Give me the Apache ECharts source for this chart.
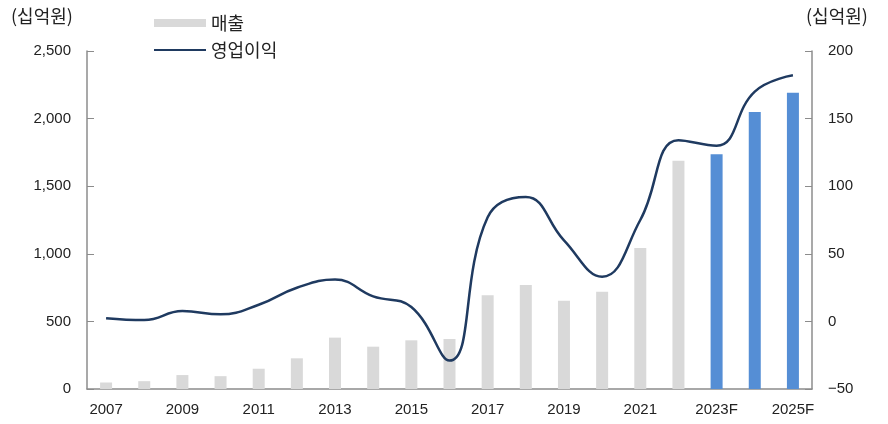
<!DOCTYPE html>
<html><head><meta charset="utf-8">
<script src="https://cdn.jsdelivr.net/npm/echarts@6/dist/echarts.min.js"></script>
<style>html,body{margin:0;padding:0;background:#fff}#c{width:888px;height:424px}</style>
</head><body><div id="c"></div>
<script>
const categories = ['2007','2008','2009','2010','2011','2012','2013','2014','2015','2016','2017','2018','2019','2020','2021','2022','2023F','2024F','2025F'];
const sales = [48, 58, 103, 95, 150, 227, 380, 313, 360, 370, 693, 769, 653, 720, 1043, 1689, 1736, 2049, 2192];
const opProfit = [2.4, 1, 7.6, 5.2, 12.3, 24.9, 31, 18.5, 10.6, -29, 77, 92, 60, 33, 75, 134, 130, 170, 182];
const forecastStart = 16;
const leftTicks = [0, 500, 1000, 1500, 2000, 2500];
const rightTicks = [-50, 0, 50, 100, 150, 200];

const numFont = '"Liberation Sans", Arial, sans-serif';
const krFont = '"Noto Sans CJK KR", sans-serif';
const axisColor = '#8c8c8c';

const chart = echarts.init(document.getElementById('c'), null, {renderer: 'canvas'});
chart.setOption({
  animation: false,
  grid: {left: 87, right: 76, top: 51, bottom: 35},
  legend: {
    orient: 'vertical', left: 148, top: 9, itemWidth: 52, itemHeight: 8, itemGap: 9,
    textStyle: {fontFamily: krFont, fontSize: 18, color: '#222'},
    data: [
      {name: '매출', icon: 'rect', itemStyle: {color: '#d9d9d9'}},
      {name: '영업이익', itemStyle: {opacity: 0}}
    ]
  },
  graphic: [
    {type: 'text', left: 11, top: 7, style: {text: '(십억원)', font: '18px ' + krFont, fill: '#222'}},
    {type: 'text', left: 806, top: 7, style: {text: '(십억원)', font: '18px ' + krFont, fill: '#222'}}
  ],
  xAxis: {
    type: 'category', data: categories, boundaryGap: true,
    axisLine: {lineStyle: {color: axisColor, width: 1.5}},
    axisTick: {inside: true, length: 5, lineStyle: {color: axisColor}, interval: 0},
    axisLabel: {interval: 1, color: '#222', fontFamily: numFont, fontSize: 15, margin: 13}
  },
  yAxis: [
    {type: 'value', min: 0, max: 2500, interval: 500, splitLine: {show: false},
     axisLine: {show: true, lineStyle: {color: axisColor, width: 1.5}},
     axisTick: {show: true, inside: true, length: 7, lineStyle: {color: axisColor}},
     axisLabel: {color: '#222', fontFamily: numFont, fontSize: 15, margin: 16,
       formatter: v => v.toLocaleString('en-US')}},
    {type: 'value', min: -50, max: 200, interval: 50, splitLine: {show: false},
     axisLine: {show: true, lineStyle: {color: axisColor, width: 1.5}},
     axisTick: {show: true, inside: true, length: 7, lineStyle: {color: axisColor}},
     axisLabel: {color: '#222', fontFamily: numFont, fontSize: 15, margin: 16,
       formatter: v => (v < 0 ? '\u2212' + Math.abs(v) : String(v))}}
  ],
  series: [
    {name: '매출', type: 'bar', yAxisIndex: 0, barWidth: 12,
     data: sales.map((v, i) => ({value: v, itemStyle: {color: i >= forecastStart ? '#558ed5' : '#d9d9d9'}})),
     itemStyle: {color: '#d9d9d9'}},
    {name: '영업이익', type: 'line', yAxisIndex: 1, data: opProfit, smooth: 0.45, symbol: 'none',
     lineStyle: {color: '#1f3a60', width: 2.5}, itemStyle: {color: '#1f3a60'}}
  ]
});
</script></body></html>
